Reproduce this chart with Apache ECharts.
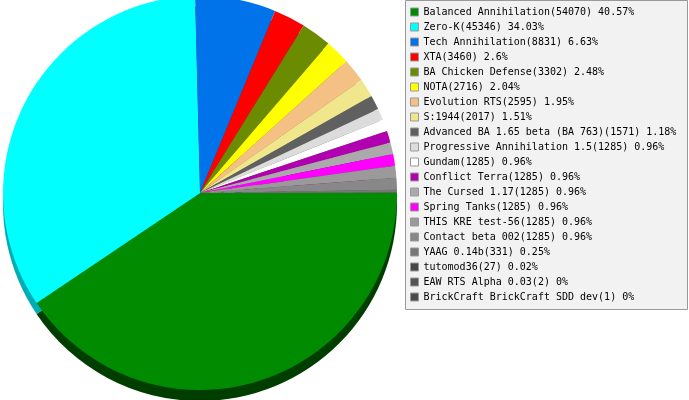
<!DOCTYPE html>
<html>
<head>
<meta charset="utf-8">
<script src="https://cdn.jsdelivr.net/npm/echarts@6/dist/echarts.min.js"></script>
<style>html,body{margin:0;padding:0;background:#fff}#c{width:689px;height:400px}</style>
</head>
<body>
<div id="c"></div>
<script>
var names = ["Balanced Annihilation","Zero-K","Tech Annihilation","XTA","BA Chicken Defense","NOTA","Evolution RTS","S:1944","Advanced BA 1.65 beta (BA 763)","Progressive Annihilation 1.5","Gundam","Conflict Terra","The Cursed 1.17","Spring Tanks","THIS KRE test-56","Contact beta 002","YAAG 0.14b","tutomod36","EAW RTS Alpha 0.03","BrickCraft BrickCraft SDD dev"];
var values = [54070,45346,8831,3460,3302,2716,2595,2017,1571,1285,1285,1285,1285,1285,1285,1285,331,27,2,1];
var colors = ["#008b00","#00ffff","#0073ea","#ff0000","#6b8b00","#ffff00","#f5c083","#f0e68c","#606060","#dcdcdc","#ffffff","#b000b0","#aaaaaa","#ff00ff","#9a9a9a","#888888","#777777","#484848","#555555","#4c4c4c"];
var sideColors = {"#008b00":"#003e00","#00ffff":"#00adb5"};

var total = values.reduce(function(a,b){return a+b;},0);
function pct(v){ return Math.round(v/total*10000)/100; }
function shade(hex, f){
  if (sideColors[hex]) return sideColors[hex];
  var n = parseInt(hex.slice(1),16);
  var r = Math.round(((n>>16)&255)*f), g = Math.round(((n>>8)&255)*f), b = Math.round((n&255)*f);
  return 'rgb('+r+','+g+','+b+')';
}
var topData = names.map(function(n,i){ return {name:n, value:values[i], itemStyle:{color:colors[i]}}; });
var depthData = names.map(function(n,i){ return {name:n+' ', value:values[i], itemStyle:{color:shade(colors[i],0.55)}}; });
var lookup = {};
names.forEach(function(n,i){ lookup[n]=values[i]; });

var chart = echarts.init(document.getElementById('c'), null, {renderer:'canvas'});
chart.setOption({
  animation:false,
  backgroundColor:'#ffffff',
  graphic:[{type:'rect', z:0, shape:{x:405.5,y:0.5,width:282,height:309}, style:{fill:'#f2f2f2', stroke:'#999999', lineWidth:1}}],
  legend:{
    z:10,
    orient:'vertical', left:410, top:4.5, padding:0, itemGap:0,
    itemWidth:8, itemHeight:8, icon:'rect',
    itemStyle:{borderColor:'#999999', borderWidth:1},
    data:names,
    textStyle:{fontFamily:'DejaVu Sans Mono', fontSize:10, color:'#000', lineHeight:15},
    formatter:function(n){ return n+'('+lookup[n]+') '+pct(lookup[n])+'%'; },
    selectedMode:false
  },
  series:[
    {type:'pie', z:1, silent:true, center:[200,204], radius:197, startAngle:0, clockwise:true,
     label:{show:false}, labelLine:{show:false}, data:depthData, itemStyle:{borderWidth:0}, emphasis:{disabled:true}},
    {type:'pie', z:2, center:[200,193], radius:197, startAngle:0, clockwise:true,
     label:{show:false}, labelLine:{show:false}, data:topData, itemStyle:{borderWidth:0}, emphasis:{disabled:true}}
  ]
});
</script>
</body>
</html>
